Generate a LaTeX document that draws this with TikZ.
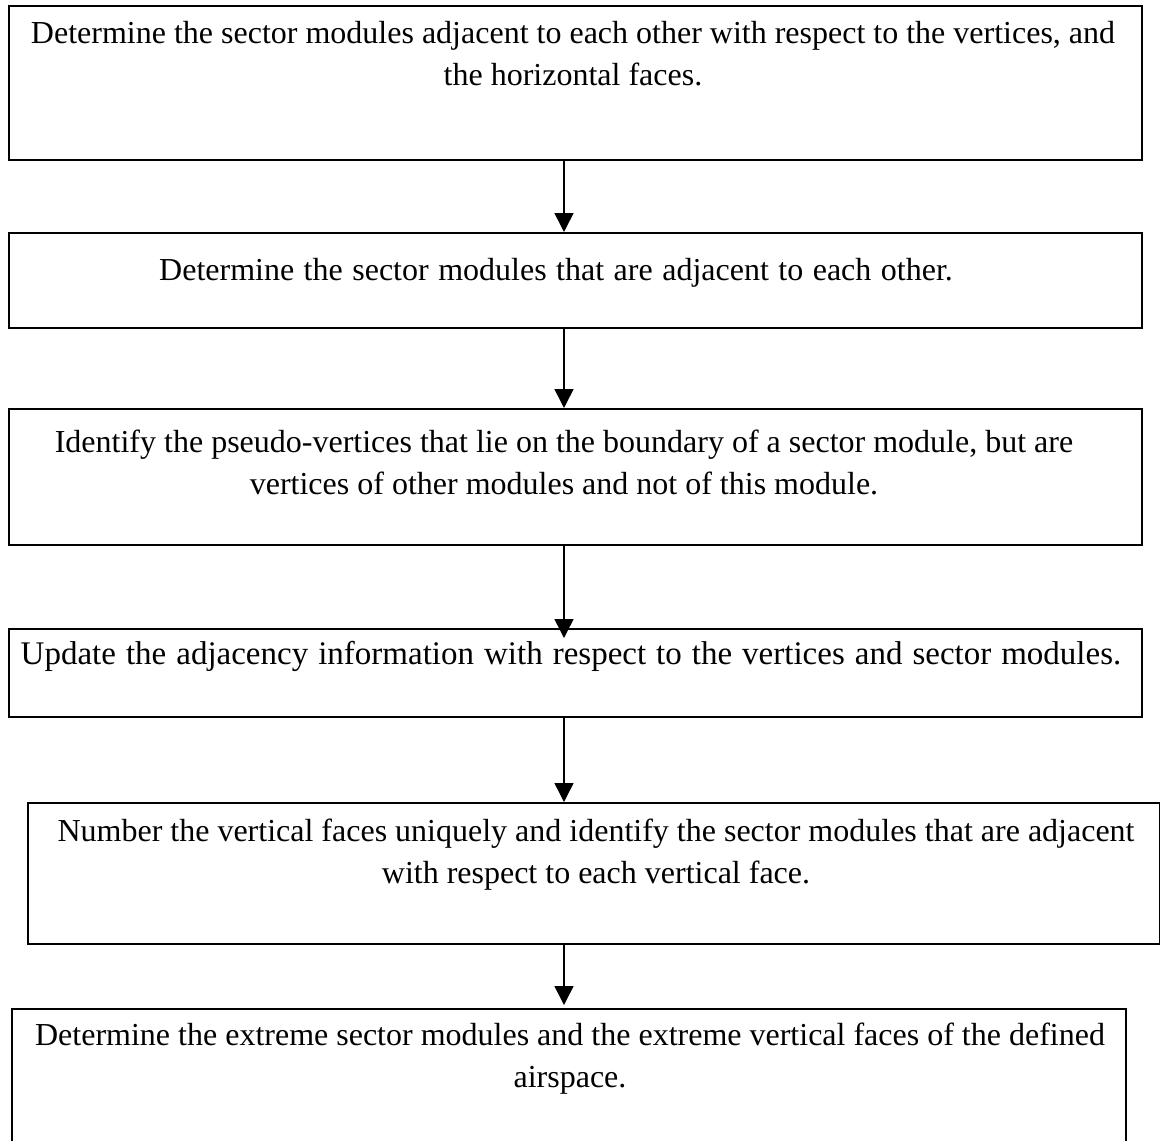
\documentclass[tikz,border=0pt]{standalone}
\usepackage{fontspec}
\setmainfont{Liberation Serif}
\usetikzlibrary{arrows.meta}
\begin{document}
\begin{tikzpicture}[x=1pt,y=-1pt,
  stepbox/.style={draw, line width=2pt, rectangle, inner sep=0pt, anchor=north west},
  steptext/.style={align=center, font=\fontsize{32}{42}\selectfont, inner sep=0pt},
  flow/.style={-{Triangle[length=19pt,width=19pt]}, line width=1.5pt}]
\useasboundingbox[fill=white] (0,0) rectangle (1160,1141);
% frames of the six steps
\node[stepbox, minimum width=1133pt, minimum height=154pt] (b1) at (8,5) {};
\node[stepbox, minimum width=1133pt, minimum height=95pt]  (b2) at (8,232) {};
\node[stepbox, minimum width=1133pt, minimum height=136pt] (b3) at (8,408) {};
\node[stepbox, minimum width=1133pt, minimum height=88pt]  (b4) at (8,628) {};
\node[stepbox, minimum width=1132pt, minimum height=141pt] (b5) at (27,802) {};
\node[stepbox, minimum width=1114pt, minimum height=133pt] (b6) at (11,1008) {};
% texts of the steps
\node[steptext] (t1) at (573,54) {Determine the sector modules adjacent to each other with respect to the vertices, and\\the horizontal faces.};
\node[steptext] (t2) at (556,273) {\spaceskip=9.5pt Determine the sector modules that are adjacent to each other.};
\node[steptext] (t3) at (564,462) {Identify the pseudo-vertices that lie on the boundary of a sector module, but are\\vertices of other modules and not of this module.};
\node[steptext, font=\fontsize{33}{42}\selectfont] (t4) at (571,656) {\spaceskip=10pt Update the adjacency information with respect to the vertices and sector modules.};
\node[steptext] (t5) at (596,855) {Number the vertical faces uniquely and identify the sector modules that are adjacent\\with respect to each vertical face.};
\node[steptext] (t6) at (570,1059) {Determine the extreme sector modules and the extreme vertical faces of the defined\\airspace.};
% flow arrows
\coordinate (axis) at (564,0);
\draw[flow] (b1.south -| axis) -- (b2.north -| axis);
\draw[flow] (b2.south -| axis) -- (b3.north -| axis);
\draw[flow, shorten >=-10pt] (b3.south -| axis) -- (b4.north -| axis);
\draw[flow] (b4.south -| axis) -- (b5.north -| axis);
\draw[flow, shorten >=3pt] (b5.south -| axis) -- (b6.north -| axis);
\end{tikzpicture}
\end{document}
